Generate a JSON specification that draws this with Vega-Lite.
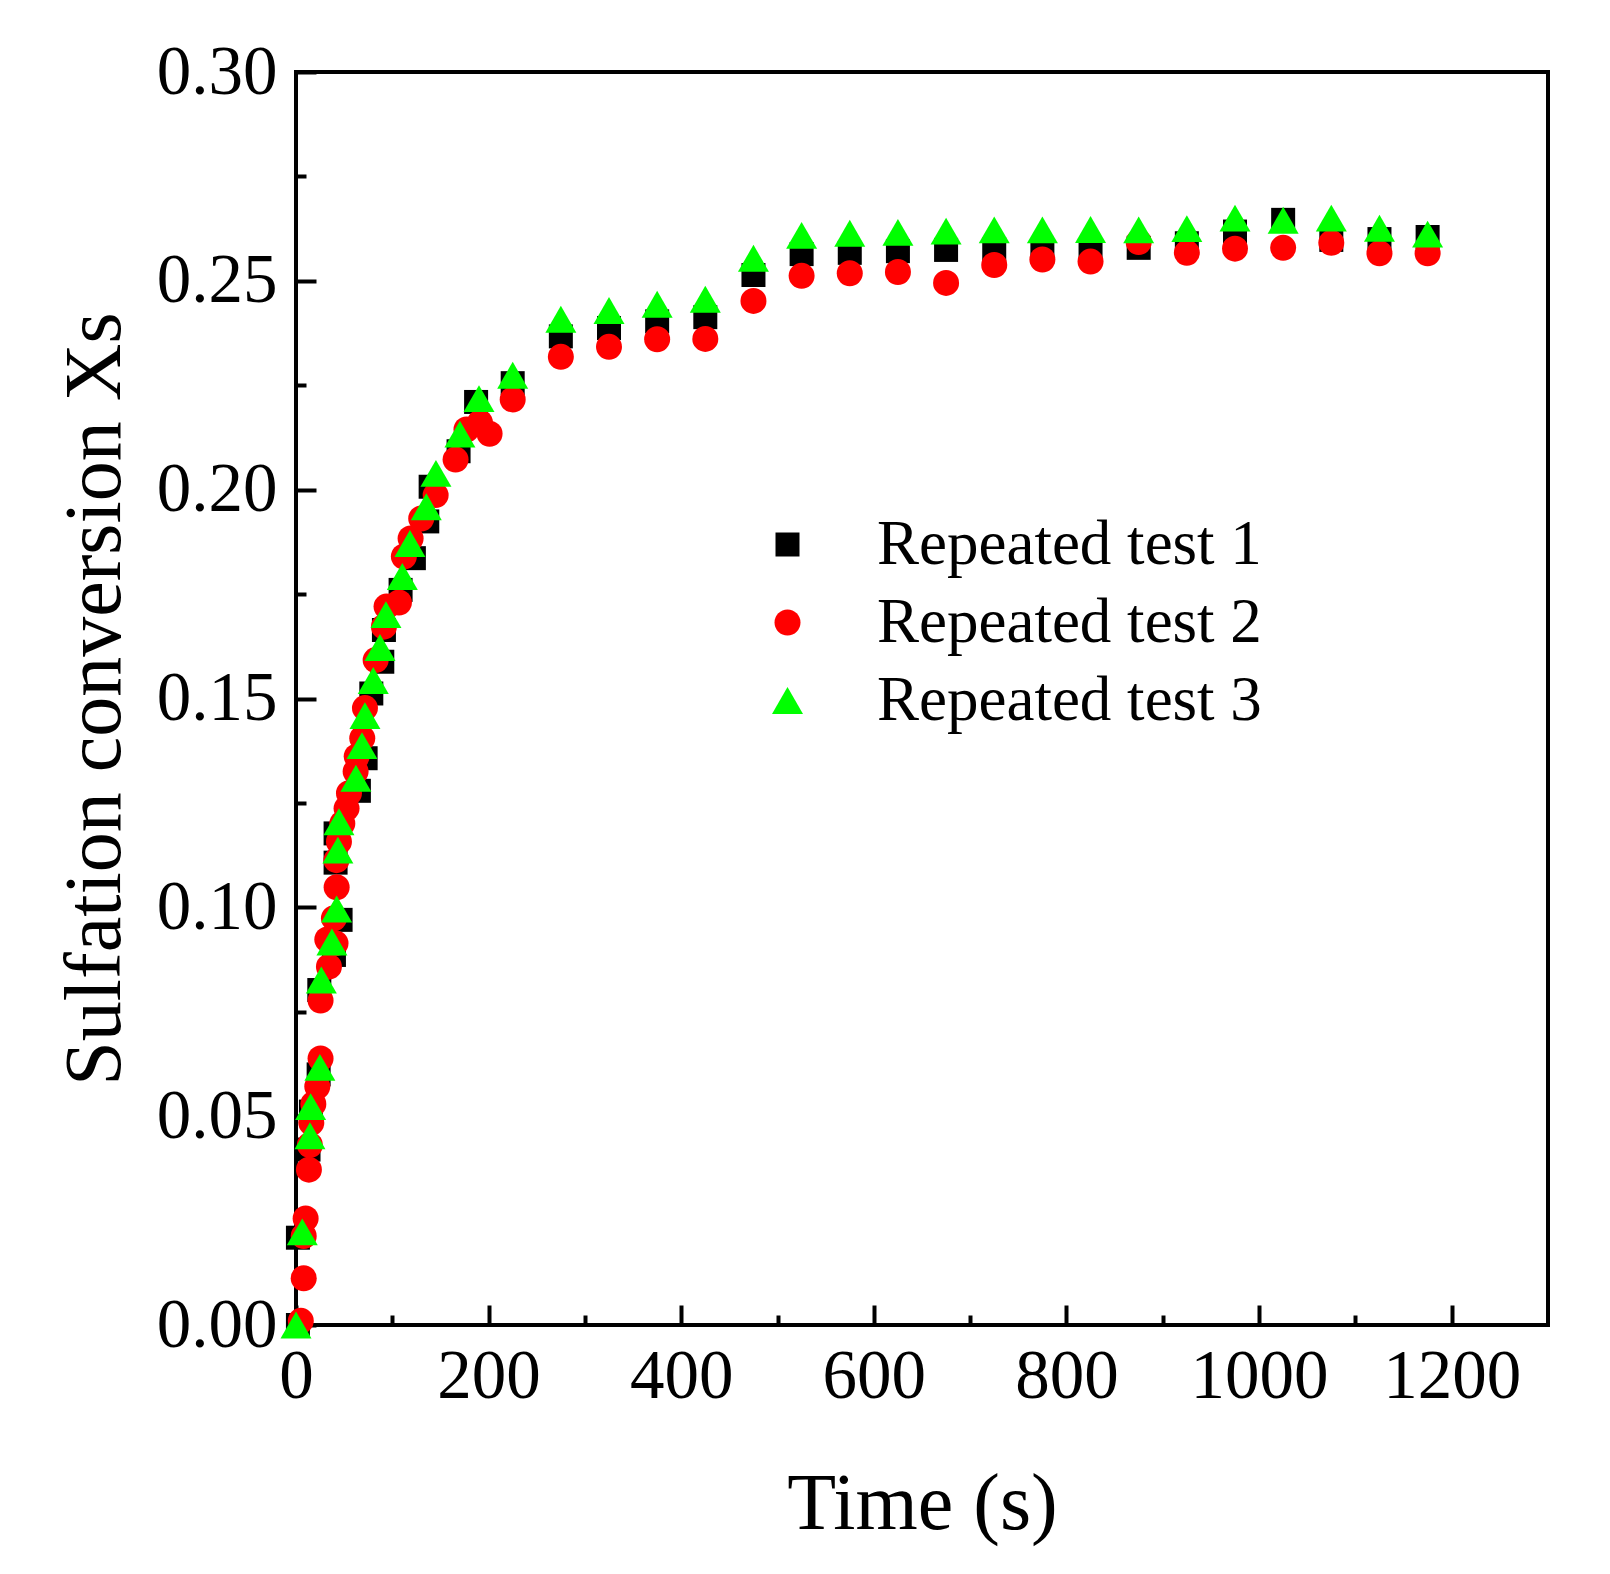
{
  "$schema": "https://vega.github.io/schema/vega-lite/v6.json",
  "width": 1252,
  "height": 1253,
  "autosize": {"type": "none"},
  "padding": {"left": 296, "top": 72, "right": 62, "bottom": 249},
  "background": "white",
  "config": {
    "view": {"stroke": "black", "strokeWidth": 4},
    "font": "Liberation Serif"
  },
  "data": {
    "values": [
      {"series": "Repeated test 1", "t": 2, "x": 0.000},
      {"series": "Repeated test 1", "t": 2, "x": 0.0209},
      {"series": "Repeated test 1", "t": 13, "x": 0.042},
      {"series": "Repeated test 1", "t": 15.5, "x": 0.0511},
      {"series": "Repeated test 1", "t": 23.5, "x": 0.060},
      {"series": "Repeated test 1", "t": 24.2, "x": 0.0802},
      {"series": "Repeated test 1", "t": 39.4, "x": 0.0886},
      {"series": "Repeated test 1", "t": 46.3, "x": 0.097},
      {"series": "Repeated test 1", "t": 41.1, "x": 0.1107},
      {"series": "Repeated test 1", "t": 41.1, "x": 0.1177},
      {"series": "Repeated test 1", "t": 65.3, "x": 0.1279},
      {"series": "Repeated test 1", "t": 72.3, "x": 0.1357},
      {"series": "Repeated test 1", "t": 78.2, "x": 0.1512},
      {"series": "Repeated test 1", "t": 89.6, "x": 0.1588},
      {"series": "Repeated test 1", "t": 91.3, "x": 0.1664},
      {"series": "Repeated test 1", "t": 108.6, "x": 0.176},
      {"series": "Repeated test 1", "t": 122.4, "x": 0.1836},
      {"series": "Repeated test 1", "t": 136.3, "x": 0.1924},
      {"series": "Repeated test 1", "t": 139.8, "x": 0.2007},
      {"series": "Repeated test 1", "t": 168.8, "x": 0.2092},
      {"series": "Repeated test 1", "t": 187, "x": 0.221},
      {"series": "Repeated test 1", "t": 225, "x": 0.2255},
      {"series": "Repeated test 1", "t": 275, "x": 0.2367},
      {"series": "Repeated test 1", "t": 325, "x": 0.2387},
      {"series": "Repeated test 1", "t": 375, "x": 0.2403},
      {"series": "Repeated test 1", "t": 425, "x": 0.2413},
      {"series": "Repeated test 1", "t": 475, "x": 0.2514},
      {"series": "Repeated test 1", "t": 525, "x": 0.2564},
      {"series": "Repeated test 1", "t": 575, "x": 0.2567},
      {"series": "Repeated test 1", "t": 625, "x": 0.2571},
      {"series": "Repeated test 1", "t": 675, "x": 0.2574},
      {"series": "Repeated test 1", "t": 725, "x": 0.2575},
      {"series": "Repeated test 1", "t": 775, "x": 0.2570},
      {"series": "Repeated test 1", "t": 825, "x": 0.2566},
      {"series": "Repeated test 1", "t": 875, "x": 0.2579},
      {"series": "Repeated test 1", "t": 925, "x": 0.2590},
      {"series": "Repeated test 1", "t": 975, "x": 0.2618},
      {"series": "Repeated test 1", "t": 1025, "x": 0.2646},
      {"series": "Repeated test 1", "t": 1075, "x": 0.2598},
      {"series": "Repeated test 1", "t": 1125, "x": 0.2600},
      {"series": "Repeated test 1", "t": 1175, "x": 0.2605},
      {"series": "Repeated test 2", "t": 5, "x": 0.001},
      {"series": "Repeated test 2", "t": 8, "x": 0.0112},
      {"series": "Repeated test 2", "t": 8, "x": 0.0213},
      {"series": "Repeated test 2", "t": 10, "x": 0.0255},
      {"series": "Repeated test 2", "t": 13.4, "x": 0.0372},
      {"series": "Repeated test 2", "t": 14.4, "x": 0.0431},
      {"series": "Repeated test 2", "t": 15.9, "x": 0.0484},
      {"series": "Repeated test 2", "t": 18, "x": 0.0529},
      {"series": "Repeated test 2", "t": 22.1, "x": 0.0571},
      {"series": "Repeated test 2", "t": 25.5, "x": 0.0638},
      {"series": "Repeated test 2", "t": 25.5, "x": 0.0777},
      {"series": "Repeated test 2", "t": 34.2, "x": 0.0858},
      {"series": "Repeated test 2", "t": 32.5, "x": 0.0923},
      {"series": "Repeated test 2", "t": 41, "x": 0.0914},
      {"series": "Repeated test 2", "t": 39.4, "x": 0.0974},
      {"series": "Repeated test 2", "t": 42.2, "x": 0.1048},
      {"series": "Repeated test 2", "t": 42, "x": 0.1113},
      {"series": "Repeated test 2", "t": 44.6, "x": 0.1157},
      {"series": "Repeated test 2", "t": 48.1, "x": 0.1201},
      {"series": "Repeated test 2", "t": 52.5, "x": 0.1237},
      {"series": "Repeated test 2", "t": 55, "x": 0.1273},
      {"series": "Repeated test 2", "t": 61.9, "x": 0.1325},
      {"series": "Repeated test 2", "t": 63, "x": 0.1361},
      {"series": "Repeated test 2", "t": 68.8, "x": 0.1405},
      {"series": "Repeated test 2", "t": 71.6, "x": 0.1477},
      {"series": "Repeated test 2", "t": 82.7, "x": 0.1592},
      {"series": "Repeated test 2", "t": 91.3, "x": 0.1672},
      {"series": "Repeated test 2", "t": 94, "x": 0.1720},
      {"series": "Repeated test 2", "t": 106.9, "x": 0.1730},
      {"series": "Repeated test 2", "t": 112, "x": 0.1840},
      {"series": "Repeated test 2", "t": 119, "x": 0.1883},
      {"series": "Repeated test 2", "t": 130, "x": 0.1931},
      {"series": "Repeated test 2", "t": 145, "x": 0.1987},
      {"series": "Repeated test 2", "t": 165.7, "x": 0.2072},
      {"series": "Repeated test 2", "t": 177, "x": 0.2144},
      {"series": "Repeated test 2", "t": 191, "x": 0.2161},
      {"series": "Repeated test 2", "t": 201, "x": 0.2134},
      {"series": "Repeated test 2", "t": 225, "x": 0.2216},
      {"series": "Repeated test 2", "t": 275, "x": 0.2318},
      {"series": "Repeated test 2", "t": 325, "x": 0.2342},
      {"series": "Repeated test 2", "t": 375, "x": 0.2360},
      {"series": "Repeated test 2", "t": 425, "x": 0.2361},
      {"series": "Repeated test 2", "t": 475, "x": 0.2452},
      {"series": "Repeated test 2", "t": 525, "x": 0.2512},
      {"series": "Repeated test 2", "t": 575, "x": 0.2518},
      {"series": "Repeated test 2", "t": 625, "x": 0.2521},
      {"series": "Repeated test 2", "t": 675, "x": 0.2495},
      {"series": "Repeated test 2", "t": 725, "x": 0.2538},
      {"series": "Repeated test 2", "t": 775, "x": 0.2551},
      {"series": "Repeated test 2", "t": 825, "x": 0.2546},
      {"series": "Repeated test 2", "t": 875, "x": 0.2593},
      {"series": "Repeated test 2", "t": 925, "x": 0.2567},
      {"series": "Repeated test 2", "t": 975, "x": 0.2577},
      {"series": "Repeated test 2", "t": 1025, "x": 0.2579},
      {"series": "Repeated test 2", "t": 1075, "x": 0.2591},
      {"series": "Repeated test 2", "t": 1125, "x": 0.2566},
      {"series": "Repeated test 2", "t": 1175, "x": 0.2566},
      {"series": "Repeated test 3", "t": 0, "x": 0.000},
      {"series": "Repeated test 3", "t": 6.5, "x": 0.0223},
      {"series": "Repeated test 3", "t": 14.5, "x": 0.0453},
      {"series": "Repeated test 3", "t": 15.2, "x": 0.0523},
      {"series": "Repeated test 3", "t": 24.8, "x": 0.0617},
      {"series": "Repeated test 3", "t": 26.3, "x": 0.0826},
      {"series": "Repeated test 3", "t": 37.3, "x": 0.0917},
      {"series": "Repeated test 3", "t": 42.2, "x": 0.0996},
      {"series": "Repeated test 3", "t": 43.5, "x": 0.1137},
      {"series": "Repeated test 3", "t": 44.6, "x": 0.1205},
      {"series": "Repeated test 3", "t": 62.2, "x": 0.1309},
      {"series": "Repeated test 3", "t": 68.5, "x": 0.1387},
      {"series": "Repeated test 3", "t": 71.6, "x": 0.1459},
      {"series": "Repeated test 3", "t": 80.2, "x": 0.1543},
      {"series": "Repeated test 3", "t": 87.2, "x": 0.1622},
      {"series": "Repeated test 3", "t": 93.4, "x": 0.1701},
      {"series": "Repeated test 3", "t": 110.4, "x": 0.1792},
      {"series": "Repeated test 3", "t": 118.3, "x": 0.1871},
      {"series": "Repeated test 3", "t": 135.3, "x": 0.1959},
      {"series": "Repeated test 3", "t": 145.3, "x": 0.2039},
      {"series": "Repeated test 3", "t": 170.2, "x": 0.2133},
      {"series": "Repeated test 3", "t": 190, "x": 0.2218},
      {"series": "Repeated test 3", "t": 225, "x": 0.2274},
      {"series": "Repeated test 3", "t": 275, "x": 0.2408},
      {"series": "Repeated test 3", "t": 325, "x": 0.2429},
      {"series": "Repeated test 3", "t": 375, "x": 0.2444},
      {"series": "Repeated test 3", "t": 425, "x": 0.2456},
      {"series": "Repeated test 3", "t": 475, "x": 0.2554},
      {"series": "Repeated test 3", "t": 525, "x": 0.2609},
      {"series": "Repeated test 3", "t": 575, "x": 0.2614},
      {"series": "Repeated test 3", "t": 625, "x": 0.2616},
      {"series": "Repeated test 3", "t": 675, "x": 0.2619},
      {"series": "Repeated test 3", "t": 725, "x": 0.2622},
      {"series": "Repeated test 3", "t": 775, "x": 0.2622},
      {"series": "Repeated test 3", "t": 825, "x": 0.2623},
      {"series": "Repeated test 3", "t": 875, "x": 0.2622},
      {"series": "Repeated test 3", "t": 925, "x": 0.2625},
      {"series": "Repeated test 3", "t": 975, "x": 0.2650},
      {"series": "Repeated test 3", "t": 1025, "x": 0.2645},
      {"series": "Repeated test 3", "t": 1075, "x": 0.2650},
      {"series": "Repeated test 3", "t": 1125, "x": 0.2626},
      {"series": "Repeated test 3", "t": 1175, "x": 0.2612}
    ]
  },
  "mark": {"type": "point", "filled": true, "opacity": 1, "strokeWidth": 0},
  "encoding": {
    "x": {
      "field": "t", "type": "quantitative",
      "scale": {"domain": [0, 1300], "nice": false, "zero": false},
      "axis": {
        "title": "Time (s)",
        "titleFont": "Liberation Serif", "titleFontSize": 80, "titleFontWeight": "normal", "titleColor": "black",
        "titlePadding": 44,
        "values": [0, 100, 200, 300, 400, 500, 600, 700, 800, 900, 1000, 1100, 1200],
        "format": "d",
        "labelExpr": "datum.value % 200 === 0 ? datum.label : ''",
        "labelFont": "Liberation Serif", "labelFontSize": 69, "labelColor": "black",
        "labelPadding": 37, "labelFlush": false, "labelOverlap": false,
        "domain": false, "grid": false,
        "tickColor": "black", "tickWidth": 4,
        "tickSize": {"condition": {"test": "datum.value % 200 === 0", "value": -20}, "value": -10}
      }
    },
    "y": {
      "field": "x", "type": "quantitative",
      "scale": {"domain": [0, 0.3], "nice": false, "zero": false},
      "axis": {
        "title": "Sulfation conversion Xs",
        "titleFont": "Liberation Serif", "titleFontSize": 80, "titleFontWeight": "normal", "titleColor": "black",
        "titlePadding": 20,
        "values": [0, 0.025, 0.05, 0.075, 0.1, 0.125, 0.15, 0.175, 0.2, 0.225, 0.25, 0.275, 0.3],
        "format": ".2f",
        "labelExpr": "round(datum.value * 1000) % 50 === 0 ? datum.label : ''",
        "labelFont": "Liberation Serif", "labelFontSize": 69, "labelColor": "black",
        "labelPadding": 39, "labelFlush": false, "labelOverlap": false,
        "domain": false, "grid": false,
        "tickColor": "black", "tickWidth": 4,
        "tickSize": {"condition": {"test": "round(datum.value * 1000) % 50 === 0", "value": -20}, "value": -10}
      }
    },
    "color": {
      "field": "series", "type": "nominal",
      "scale": {"domain": ["Repeated test 1", "Repeated test 2", "Repeated test 3"], "range": ["#000000", "#ff0000", "#00ff00"]},
      "legend": {
        "title": null, "orient": "none", "legendX": 460, "legendY": 441,
        "labelFont": "Liberation Serif", "labelFontSize": 63, "labelColor": "black",
        "labelOffset": 58, "rowPadding": 14, "padding": 0, "symbolStrokeWidth": 0, "labelLimit": 0
      }
    },
    "shape": {
      "field": "series", "type": "nominal",
      "scale": {"domain": ["Repeated test 1", "Repeated test 2", "Repeated test 3"], "range": ["square", "circle", "triangle-up"]}
    },
    "size": {
      "field": "series", "type": "nominal",
      "scale": {"type": "ordinal", "domain": ["Repeated test 1", "Repeated test 2", "Repeated test 3"], "range": [576, 676, 961]}
    }
  }
}
